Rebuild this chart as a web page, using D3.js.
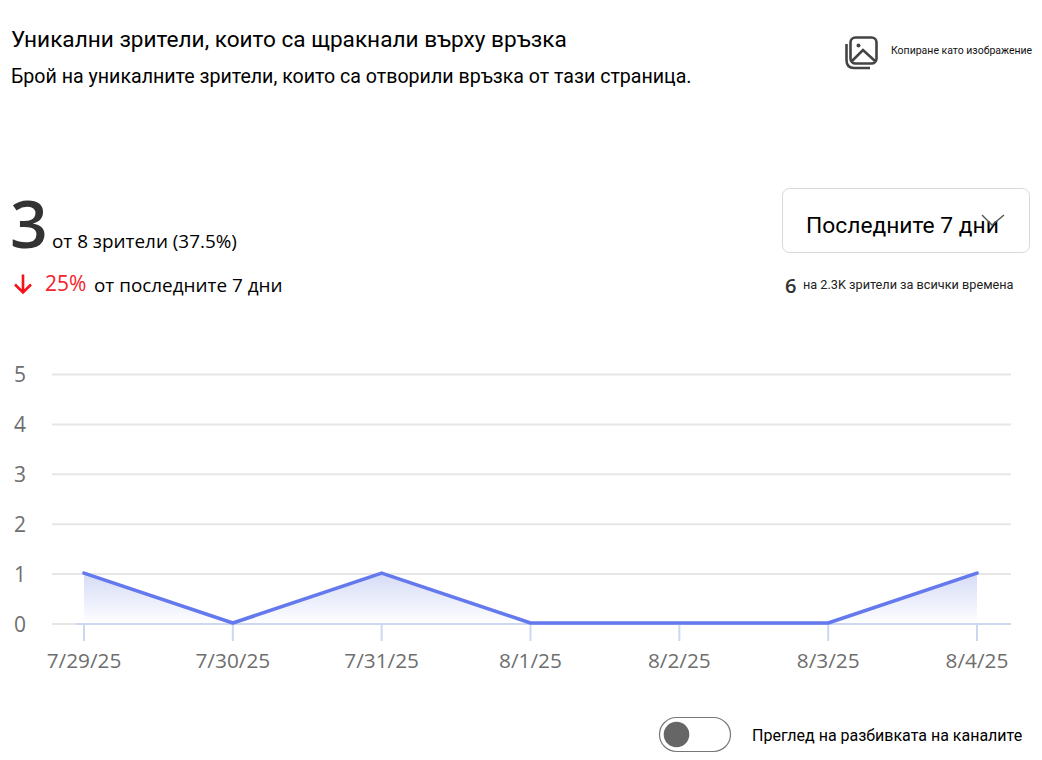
<!DOCTYPE html>
<html><head><meta charset="utf-8">
<script src="https://cdn.jsdelivr.net/npm/d3@7/dist/d3.min.js"></script>
<style>html,body{margin:0;padding:0;background:#fff;overflow:hidden}svg{display:block}</style>
</head><body><svg id="c" width="1042" height="760"></svg>
<script>
const categories=["7/29/25","7/30/25","7/31/25","8/1/25","8/2/25","8/3/25","8/4/25"];
const values=[1,0,1,0,0,0,1];
const yTicks=[0,1,2,3,4,5];
const title="Уникални зрители, които са щракнали върху връзка";
const subtitle="Брой на уникалните зрители, които са отворили връзка от тази страница.";
const copyLabel="Копиране като изображение";
const bigValue="3", ofViewers="от 8 зрители (37.5%)";
const changeValue="25%", changeLabel="от последните 7 дни";
const rangeLabel="Последните 7 дни";
const allTimeValue="6", allTimeLabel="на 2.3K зрители за всички времена";
const toggleLabel="Преглед на разбивката на каналите";

const svg=d3.select("#c");
const UI="'Open Sans','Noto Sans',sans-serif", R="Roboto,sans-serif";
function txt(x,y,s,size,fill,font,anchor){
  return svg.append("text").attr("x",x).attr("y",y).attr("font-size",size).attr("fill",fill||"#000")
    .attr("font-family",font||R).attr("text-anchor",anchor||"start").text(s);
}
const x=d3.scalePoint().domain(categories).range([84,977]);
const y=d3.scaleLinear().domain([0,5]).range([624,374.5]);

const defs=svg.append("defs");
const g=defs.append("linearGradient").attr("id","fill").attr("gradientUnits","userSpaceOnUse")
  .attr("x1",0).attr("x2",0).attr("y1",y(1)).attr("y2",y(0));
g.append("stop").attr("offset",0).attr("stop-color","#cfd6f5").attr("stop-opacity",.85);
g.append("stop").attr("offset",1).attr("stop-color","#ffffff").attr("stop-opacity",.9);

txt(11,47,title,22.6,"#000",R);
txt(11,83,subtitle,19.6,"#000",R);
txt(891,54,copyLabel,10.5,"#111",R);

// copy icon
const ic=svg.append("g").attr("fill","none").attr("stroke","#444").attr("stroke-width",2.6);
ic.append("rect").attr("x",850.5).attr("y",37.5).attr("width",26).attr("height",26).attr("rx",5);
ic.append("path").attr("d","M846.5 44 V60 Q846.5 68 854 68 H870");
ic.append("path").attr("d","M852 61 L863 50 L875 61");
ic.append("circle").attr("cx",858.5).attr("cy",45.5).attr("r",2).attr("fill","#444").attr("stroke","none");

txt(10,248,bigValue,66,"#333",UI).attr("font-weight",600);
txt(52,248,ofViewers,18.9,"#000",UI);
const ar=svg.append("g").attr("fill","none").attr("stroke","#f8101a").attr("stroke-width",2.6);
ar.append("path").attr("d","M23 274.5 V292.5 M15 284.5 L23 292.5 L31 284.5");
txt(45,291,changeValue,21,"#f5222d",UI);
txt(94,292,changeLabel,18.9,"#000",UI);

svg.append("rect").attr("x",782.5).attr("y",188.5).attr("width",247).attr("height",64).attr("rx",7)
  .attr("fill","#fff").attr("stroke","#d9d9d9");
txt(806,233,rangeLabel,22.8,"#000",R);
svg.append("path").attr("d","M982 215 L992 225 L1004 215").attr("fill","none").attr("stroke","#555").attr("stroke-width",1.4);
txt(785,293,allTimeValue,20,"#333",UI).attr("font-weight",600);
txt(803,289,allTimeLabel,12.7,"#222",R);

// chart
svg.append("g").selectAll("line").data(yTicks).join("line")
  .attr("x1",52).attr("x2",1011).attr("y1",d=>y(d)).attr("y2",d=>y(d))
  .attr("stroke","#e6e6e6").attr("stroke-width",2);
svg.append("g").selectAll("text").data(yTicks).join("text")
  .attr("x",14).attr("y",d=>y(d)+7.5).attr("text-anchor","start")
  .attr("font-family",UI).attr("font-size",21).attr("fill","#6e6e6e").text(d=>d);

const area=d3.area().x((d,i)=>x(categories[i])).y0(y(0)).y1(d=>y(d));
svg.append("path").datum(values).attr("d",area).attr("fill","url(#fill)");

svg.append("line").attr("x1",76).attr("x2",1011).attr("y1",y(0)).attr("y2",y(0))
  .attr("stroke","#cdd8f0").attr("stroke-width",2);
svg.append("g").selectAll("line").data(categories).join("line")
  .attr("x1",d=>x(d)).attr("x2",d=>x(d)).attr("y1",y(0)).attr("y2",641)
  .attr("stroke","#cdd8f0").attr("stroke-width",2);

const line=d3.line().x((d,i)=>x(categories[i])).y(d=>y(d)-1);
svg.append("path").datum(values).attr("d",line).attr("fill","none")
  .attr("stroke","#6579ee").attr("stroke-width",3.6).attr("stroke-linejoin","round").attr("stroke-linecap","round");

svg.append("g").selectAll("text").data(categories).join("text")
  .attr("x",d=>x(d)).attr("y",668).attr("text-anchor","middle")
  .attr("font-family",UI).attr("font-size",20.8).attr("fill","#6e6e6e").text(d=>d);

// toggle
svg.append("rect").attr("x",659.5).attr("y",717.5).attr("width",71).attr("height",34).attr("rx",17)
  .attr("fill","#fff").attr("stroke","#777").attr("stroke-width",1.2);
svg.append("circle").attr("cx",676.5).attr("cy",734.5).attr("r",12.8).attr("fill","#666");
txt(752,741,toggleLabel,16,"#000",R);
</script></body></html>
